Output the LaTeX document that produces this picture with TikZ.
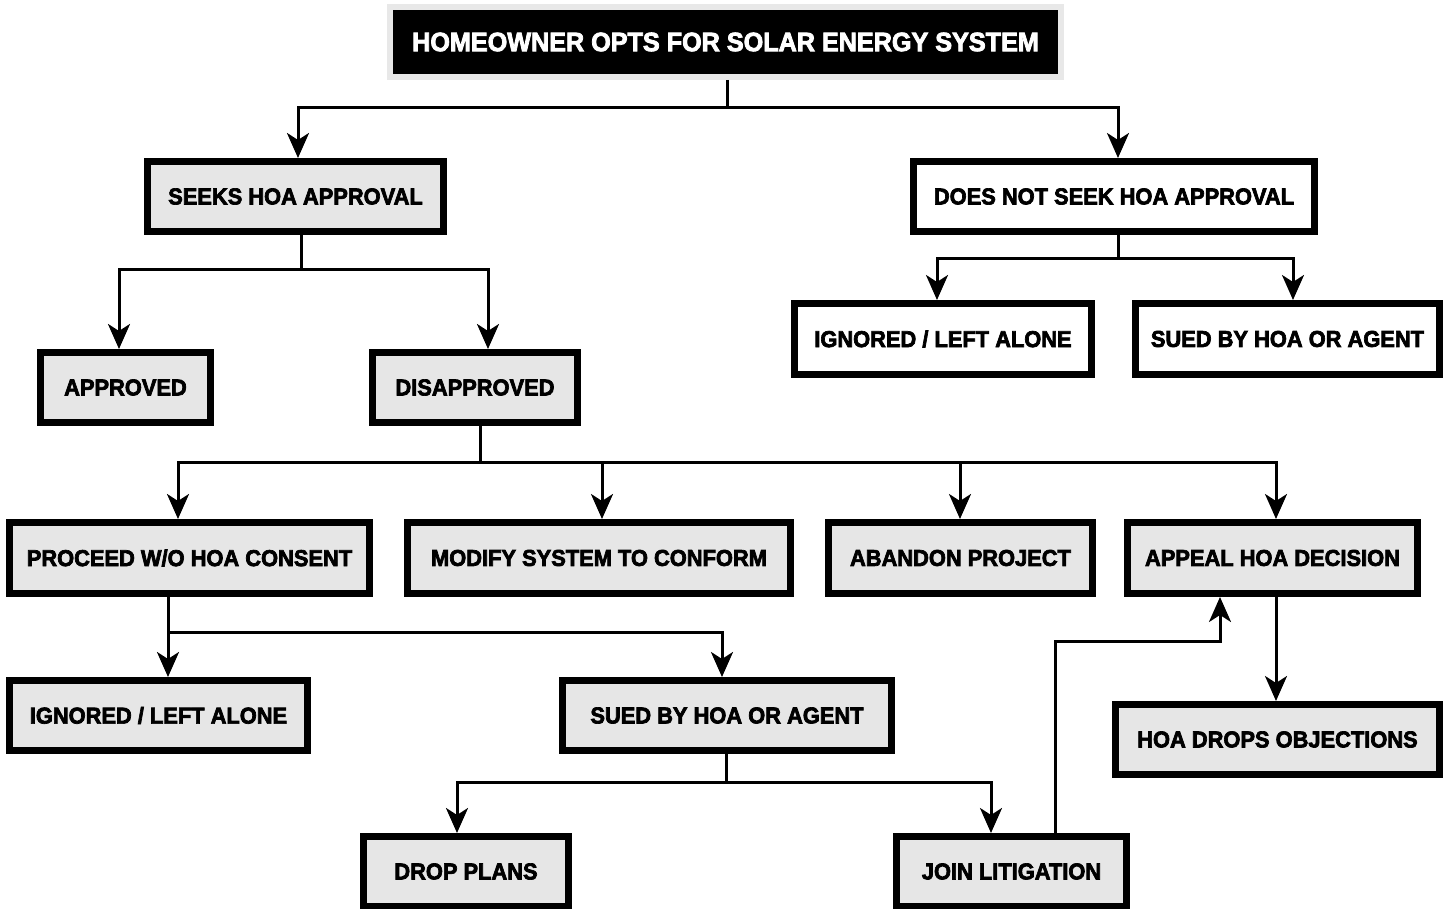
\documentclass[tikz,border=0pt]{standalone}
\usepackage{fontspec}
\usetikzlibrary{arrows.meta}
\newfontfamily\bx{Liberation Sans Bold}[FakeStretch=0.95,FakeBold=3]
\definecolor{boxgray}{HTML}{E6E6E6}
\definecolor{framegray}{HTML}{E8E8E8}
\tikzset{
  gbox/.style={draw=black, line width=7pt, fill=boxgray, inner sep=0pt,
    font=\bx\fontsize{23}{27}\selectfont, text=black},
  wbox/.style={gbox, fill=white},
  titlebox/.style={draw=framegray, line width=6pt, fill=black, inner sep=0pt,
    font=\bx\fontsize{26.5}{30}\selectfont, text=white},
  ln/.style={line width=3pt, draw=black},
  arr/.style={ln, -{Stealth[length=25pt,width=22pt,inset=7pt]}},
}
\begin{document}
\begin{tikzpicture}[x=1pt,y=-1pt]
\useasboundingbox (0,0) rectangle (1452,909);
\fill[white] (0,0) rectangle (1452,909);

\node[titlebox, minimum width=671pt, minimum height=70pt] (title) at (725.5,42) {HOMEOWNER OPTS FOR SOLAR ENERGY SYSTEM};

\node[gbox, minimum width=296pt, minimum height=70pt] (seeks) at (295.5,196.5) {SEEKS HOA APPROVAL};
\node[wbox, minimum width=401pt, minimum height=70pt] (nseek) at (1114,196.5) {DOES NOT SEEK HOA APPROVAL};

\node[wbox, minimum width=297pt, minimum height=71pt] (ignA) at (943,339) {IGNORED / LEFT ALONE};
\node[wbox, minimum width=304pt, minimum height=71pt] (suedA) at (1287.5,339) {SUED BY HOA OR AGENT};

\node[gbox, minimum width=170pt, minimum height=70pt] (appr) at (125.5,387.5) {APPROVED};
\node[gbox, minimum width=205pt, minimum height=70pt] (disappr) at (475,387.5) {DISAPPROVED};

\node[gbox, minimum width=360pt, minimum height=71pt] (proc) at (189.5,558) {PROCEED W/O HOA CONSENT};
\node[gbox, minimum width=383pt, minimum height=71pt] (modif) at (599,558) {MODIFY SYSTEM TO CONFORM};
\node[gbox, minimum width=264pt, minimum height=71pt] (aband) at (960.5,558) {ABANDON PROJECT};
\node[gbox, minimum width=290pt, minimum height=71pt] (appeal) at (1272.5,558) {APPEAL HOA DECISION};

\node[gbox, minimum width=298pt, minimum height=70pt] (ignB) at (158.5,715.5) {IGNORED / LEFT ALONE};
\node[gbox, minimum width=329pt, minimum height=70pt] (suedB) at (727,715.5) {SUED BY HOA OR AGENT};
\node[gbox, minimum width=324pt, minimum height=70pt] (hoad) at (1277.5,739.5) {HOA DROPS OBJECTIONS};

\node[gbox, minimum width=205pt, minimum height=70pt] (dropp) at (466,871.5) {DROP PLANS};
\node[gbox, minimum width=230pt, minimum height=70pt] (join) at (1011.5,871.5) {JOIN LITIGATION};

% connectors
\draw[arr] (727,0 |- title.south) -- (727,108) -| (298,0 |- seeks.north);
\draw[arr] (727,108) -| (1118,0 |- nseek.north);

\draw[arr] (301,0 |- seeks.south) -- (301,270) -| (119,0 |- appr.north);
\draw[arr] (301,270) -| (488,0 |- disappr.north);

\draw[arr] (1118,0 |- nseek.south) -- (1118,259) -| (937,0 |- ignA.north);
\draw[arr] (1118,259) -| (1293,0 |- suedA.north);

\draw[arr] (480,0 |- disappr.south) -- (480,462) -| (178,0 |- proc.north);
\draw[arr] (480,462) -| (602,0 |- modif.north);
\draw[arr] (480,462) -| (960,0 |- aband.north);
\draw[arr] (480,462) -| (1276,0 |- appeal.north);

\draw[arr] (168,0 |- proc.south) -- (168,0 |- ignB.north);
\draw[arr] (168,632) -| (722,0 |- suedB.north);

\draw[arr] (726,0 |- suedB.south) -- (726,782) -| (457,0 |- dropp.north);
\draw[arr] (726,782) -| (991,0 |- join.north);

\draw[arr] (1055,0 |- join.north) |- (1220,641) -- (1220,0 |- appeal.south);
\draw[arr] (1276,0 |- appeal.south) -- (1276,0 |- hoad.north);
\end{tikzpicture}
\end{document}
